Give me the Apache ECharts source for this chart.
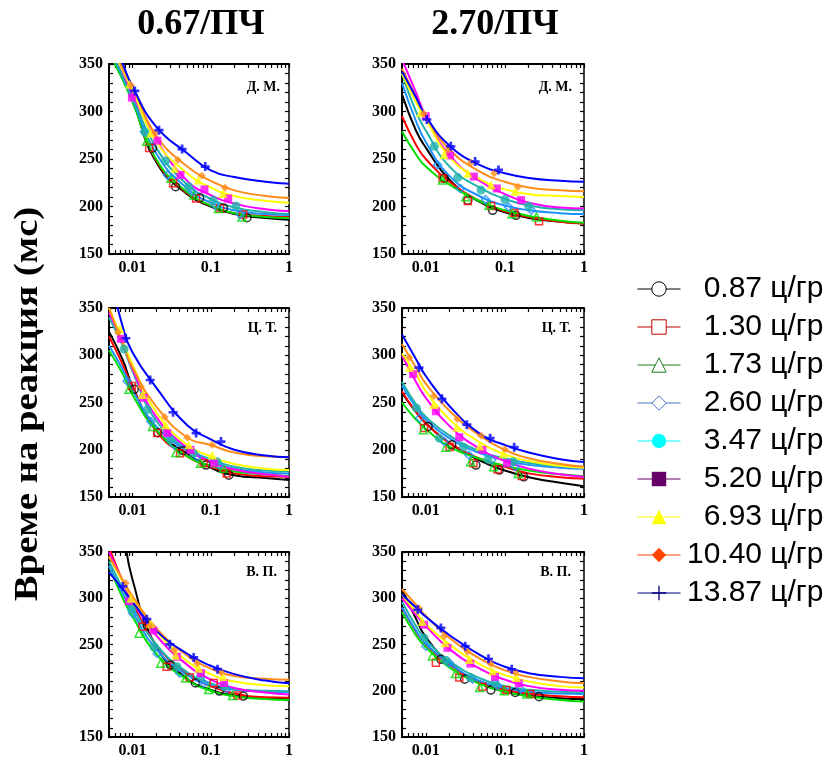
<!DOCTYPE html>
<html>
<head>
<meta charset="utf-8">
<script src="https://cdn.jsdelivr.net/npm/echarts@6/dist/echarts.min.js"></script>
<style>
html,body{margin:0;padding:0;background:#fff;}
#chart{width:828px;height:759px;}
</style>
</head>
<body>
<div id="chart"></div>
<script>
// ---------------- DATA ----------------
const doseLabels = ['0.87 ц/гр','1.30 ц/гр','1.73 ц/гр','2.60 ц/гр','3.47 ц/гр','5.20 ц/гр','6.93 ц/гр','10.40 ц/гр','13.87 ц/гр'];
const columnTitles = ['0.67/ПЧ', '2.70/ПЧ'];
const panelLabels = ['Д. М.', 'Д. М.', 'Ц. Т.', 'Ц. Т.', 'В. П.', 'В. П.'];
const yTitle = 'Време на реакция (мс)';
const xLabelVals = [0.01, 0.1, 1];
const xTickVals = [0.005,0.006,0.007,0.008,0.009,0.01,0.02,0.03,0.04,0.05,0.06,0.07,0.08,0.09,0.1,0.2,0.3,0.4,0.5,0.6,0.7,0.8,0.9,1];
const yLabelVals = [150, 200, 250, 300, 350];
const fitX = [0.005, 0.0075, 0.01, 0.02, 0.05, 0.1, 0.2, 0.5, 1];

// Д. М. — 0.67/ПЧ
const dm067Points = [
  [[0.018,261.5],[0.0355,220.8],[0.072,209],[0.145,198.5],[0.29,188.2]],
  [[0.0163,261.5],[0.033,224.4],[0.065,208.4],[0.132,198],[0.26,191.5]],
  [[0.0152,268.6],[0.031,229.7],[0.0605,212],[0.125,197.8],[0.25,189]],
  [[0.0141,279],[0.028,233],[0.058,215.5],[0.114,201.3],[0.237,191.5]],
  [[0.0145,278],[0.0265,248],[0.052,220.8],[0.107,206.7],[0.21,200.6]],
  [[0.0098,314.6],[0.0208,269.3],[0.041,233.2],[0.083,218],[0.167,208.4]],
  [[0.0091,328.8],[0.017,277],[0.0345,240.3],[0.069,227.8],[0.143,213.7]],
  [[0.0095,327.7],[0.0194,277.4],[0.038,249],[0.077,232.5],[0.152,219.7]],
  [[0.0107,321.7],[0.0218,280.3],[0.043,260.4],[0.085,242]]
];
const dm067Fit = [
  [365,335,312,247,213,200,192,188,186],
  [365,335,312,249,214,201,193,190,189],
  [362,333,310,250,215,201,193,189,188],
  [368,336,313,256,219,204,196,192,191],
  [372,338,315,262,223,208,199,194,192],
  [375,342,318,271,227,212,203,197,195],
  [372,343,322,269,235,220,211,206,204],
  [375,345,326,275,242,227,217,211,209],
  [385,350,326,284,256,238,231,226,224]
];

// Д. М. — 2.70/ПЧ
const dm270Points = [
  [[0.0171,229.7],[0.034,206.7],[0.07,196],[0.138,190.7]],
  [[0.0163,229.7],[0.034,205.7],[0.067,200.6],[0.132,193.2],[0.27,184.4]],
  [[0.0163,228],[0.032,210.2],[0.063,201.3],[0.123,192.5],[0.25,189]],
  [[0.0141,243.8],[0.0273,219],[0.057,207.3],[0.111,199.6],[0.216,196]],
  [[0.0128,263.3],[0.0253,230.4],[0.05,217.3],[0.1,207.3],[0.2,200.3]],
  [[0.01,295],[0.0203,253.7],[0.0405,231.5],[0.079,219],[0.16,206.7]],
  [[0.0086,298.7],[0.017,254.4],[0.034,235],[0.067,222.6],[0.135,216]],
  [[0.0094,297.6],[0.019,259.7],[0.037,246],[0.073,235],[0.146,220.8]],
  [[0.0103,291.6],[0.0207,263.3],[0.042,247.3],[0.083,238.5]]
];
const dm270Fit = [
  [318,280,262,228,204,194,188,184,182],
  [295,265,250,226,205,195,189,184,182],
  [279,255,242,223,205,196,190,185,183],
  [330,290,268,232,210,201,196,193,192],
  [340,300,280,242,219,208,201,197,196],
  [355,320,295,254,226,213,204,199,198],
  [340,310,292,252,228,218,213,211,210],
  [345,315,295,260,236,226,220,217,216],
  [342,315,295,264,243,235,230,227,226]
];

// Ц. Т. — 0.67/ПЧ
const ct067Points = [
  [[0.0105,263.9],[0.021,218],[0.044,199],[0.087,183.8],[0.17,173.1]],
  [[0.0098,267.4],[0.0207,217.6],[0.0405,196.3],[0.081,185.6],[0.16,174.9]],
  [[0.009,263.9],[0.018,224.7],[0.0358,197],[0.074,185.6],[0.145,180.3]],
  [[0.0085,272.8],[0.0171,230],[0.034,205],[0.067,192.7],[0.13,183.8]],
  [[0.0078,306.6],[0.0155,242.5],[0.0306,210.5],[0.06,196.3],[0.12,187.4]],
  [[0.0071,317.3],[0.0138,255],[0.0278,217.6],[0.055,199.8],[0.11,185.6]],
  [[0.0069,328],[0.0134,258.5],[0.0265,226.5],[0.0525,205.2],[0.104,194.5]],
  [[0.0065,324.4],[0.0128,266.7],[0.0257,234.7],[0.05,213],[0.104,205.2]],
  [[0.0082,318],[0.0168,273.8],[0.033,239.7],[0.065,217.6],[0.135,208.7]]
];
const ct067Fit = [
  [325,295,267,221,196,181,173,170,168],
  [320,290,266,220,193,182,175,172,171.5],
  [305,280,258,221,193,183,177,174,172],
  [310,285,263,225,199,188,180,176,175],
  [340,310,283,231,201,190,182,178,177],
  [345,313,285,235,202,187,179,174,171.5],
  [350,315,290,240,205,193,185,180,178.5],
  [350,312,287,246,213,205,197,193,192],
  [390,330,303,266,226,211,200,194,192]
];

// Ц. Т. — 2.70/ПЧ
const ct270Points = [
  [[0.0107,224.7],[0.0213,205.2],[0.043,183.8],[0.085,178.5],[0.173,171.4]],
  [[0.0095,223],[0.02,203],[0.04,185.6],[0.081,179.2],[0.163,172.1]],
  [[0.0093,221.2],[0.018,202.7],[0.037,187.4],[0.072,182],[0.148,174.9]],
  [[0.0084,233.6],[0.0171,208.7],[0.035,194.5],[0.068,189.1],[0.135,182]],
  [[0.0076,244.3],[0.0148,212.3],[0.03,202.7],[0.061,189.9],[0.127,187.4]],
  [[0.0069,280],[0.0134,240.7],[0.0265,213.3],[0.052,199.8],[0.106,185.6]],
  [[0.0062,287],[0.0126,247.9],[0.0247,223.7],[0.048,204.1],[0.095,195.6]],
  [[0.0062,297.7],[0.0126,256.8],[0.025,232.6],[0.05,214.8],[0.1,200.5]],
  [[0.0082,287],[0.016,253.9],[0.033,226.5],[0.065,212.3],[0.131,202.7]]
];
const ct270Fit = [
  [260,240,228,207,188,178,171,165,161.5],
  [262,240,228,207,190,182,175,171,169.5],
  [250,232,222,203,190,183,178,174,172],
  [268,245,232,212,196,189,184,181,180],
  [272,248,235,215,198,191,186,183,182],
  [300,272,255,225,200,188,180,174,171.5],
  [302,280,262,232,207,195,188,183,181],
  [312,287,270,241,214,200,191,185,182],
  [322,296,278,246,216,205,197,190,187]
];

// В. П. — 0.67/ПЧ
const vp067Points = [
  [[0.0155,270.4],[0.0306,227.8],[0.0636,208.4],[0.129,199.6],[0.26,194.2]],
  [[0.0134,269.3],[0.0273,226],[0.054,214.4],[0.109,208.4],[0.22,195]],
  [[0.0121,262.2],[0.0229,229.7],[0.0476,213.7],[0.094,201.3],[0.19,195]],
  [[0.01,283.5],[0.0207,240.3],[0.04,219],[0.081,208.4],[0.16,202]],
  [[0.0097,288],[0.0188,247.3],[0.037,226],[0.074,215.5],[0.148,204.9]],
  [[0.009,296.9],[0.0185,265],[0.037,236.7],[0.075,219],[0.148,208.4]],
  [[0.0095,300],[0.017,272.8],[0.0355,238.5],[0.07,224.4],[0.143,215.5]],
  [[0.0082,316.4],[0.0165,270],[0.0338,243.8],[0.067,229.7],[0.136,219.7]],
  [[0.0075,312.8],[0.0152,277.4],[0.030,250.2],[0.0605,236],[0.122,223.3]]
];
const vp067Fit = [
  [450,375,320,248,213,201,195,192,191.5],
  [355,318,295,250,218,205,197,193,192.5],
  [335,300,280,240,212,200,194,191,190],
  [335,305,285,245,217,206,201,199,198.5],
  [340,310,290,250,220,208,202,200,199.5],
  [350,318,297,260,228,212,203,198,196],
  [345,318,300,265,232,218,210,206,205],
  [345,320,302,268,238,224,216,213,212],
  [328,310,296,265,240,227,218,211,208]
];

// В. П. — 2.70/ПЧ
const vp270Points = [
  [[0.0155,234],[0.031,212.5],[0.0665,200.7],[0.135,198.2],[0.27,193.6]],
  [[0.0134,230.4],[0.0265,214.3],[0.052,204.3],[0.104,200.7],[0.209,196.4]],
  [[0.0121,237.5],[0.0238,218.6],[0.048,203.6],[0.098,200],[0.19,196.4]],
  [[0.01,248.2],[0.0197,230.4],[0.039,212.5],[0.081,205.4],[0.158,201.8]],
  [[0.0095,257.1],[0.0179,232.9],[0.0366,214.3],[0.075,207.9]],
  [[0.0095,271.4],[0.0188,246.4],[0.0366,229.3],[0.075,215],[0.15,207.9]],
  [[0.009,275],[0.0175,251.8],[0.0355,233.9],[0.0695,221.4],[0.14,214.3]],
  [[0.0082,289.3],[0.017,259],[0.0337,242.2],[0.066,229.3],[0.135,219.6]],
  [[0.0079,287.5],[0.0155,267.9],[0.0315,248.2],[0.062,234.6],[0.122,223.2]]
];
const vp270Fit = [
  [310,278,258,230,208,199,195,192,191],
  [290,264,250,228,209,201,197,194,193],
  [285,260,247,225,207,199,194,190,188.5],
  [290,265,251,229,210,203,199,197,196.5],
  [296,270,255,232,213,205,201,199,198],
  [300,282,270,245,223,212,205,201,200],
  [304,285,272,250,228,217,210,205,203.5],
  [310,293,281,257,234,222,215,210,208],
  [304,290,280,260,238,226,219,215,213.5]
];

// ---------------- STYLE ----------------
const plotColors = ['#000000','#ff0000','#00dd00','#1e90ff','#20b2aa','#ff00ff','#ffff00','#ff8c1a','#0000ff'];
const legendColors = ['#000000','#c00000','#1f7a1f','#4a76c8','#00ffff','#660066','#ffff00','#ff4500','#000080'];
const PLUS_THICK = 'path://M3.5,0h3v3.5h3.5v3h-3.5v3.5h-3v-3.5h-3.5v-3h3.5z';
const PLUS_THIN = 'path://M4.55,0H5.45V4.55H10V5.45H5.45V10H4.55V5.45H0V4.55H4.55Z';
const plotSymbols = ['circle','rect','triangle','diamond','circle','rect','triangle','diamond',PLUS_THICK];
const plotHollow = [true,true,true,true,false,false,false,false,false];
const plotSizes = [8,7,8,8,9,8,9,8,9];
const legendSymbols = ['circle','rect','triangle','diamond','circle','rect','triangle','diamond',PLUS_THIN];

const SERIF = '"Liberation Serif","Times New Roman",serif';
const SANS = '"Liberation Sans",Arial,sans-serif';

const panels = [
  {pts: dm067Points, fit: dm067Fit},
  {pts: dm270Points, fit: dm270Fit},
  {pts: ct067Points, fit: ct067Fit},
  {pts: ct270Points, fit: ct270Fit},
  {pts: vp067Points, fit: vp067Fit},
  {pts: vp270Points, fit: vp270Fit}
];

const grids = [
  {left:109, top:64, width:180, height:190},
  {left:402, top:64, width:182, height:190},
  {left:109, top:308, width:180, height:189},
  {left:402, top:308, width:182, height:189},
  {left:109, top:552, width:180, height:189},
  {left:402, top:552, width:182, height:189}
];

const xAxes = [], yAxes = [], series = [];
grids.forEach((g, p) => {
  const axLine = w => ({show:true, onZero:false, lineStyle:{color:'#000', width:w}});
  xAxes.push({
    type:'log', logBase:10, min:0.005, max:1, gridIndex:p, position:'bottom',
    axisLine: axLine(2),
    axisTick: {show:true, inside:true, length:4, customValues: xTickVals, lineStyle:{color:'#000', width:1.2}},
    axisLabel: {show:true, customValues: xLabelVals, margin:6, color:'#000', fontFamily:SERIF, fontWeight:'bold', fontSize:16,
      formatter: v => (Math.abs(v-0.01)<1e-9 ? '0.01' : Math.abs(v-0.1)<1e-9 ? '0.1' : Math.abs(v-1)<1e-9 ? '1' : '')},
    splitLine: {show:false}, minorTick:{show:false}
  });
  xAxes.push({
    type:'log', logBase:10, min:0.005, max:1, gridIndex:p, position:'top',
    axisLine: axLine(2),
    axisTick: {show:true, inside:true, length:4, customValues: xTickVals, lineStyle:{color:'#000', width:1.2}},
    axisLabel: {show:false}, splitLine:{show:false}
  });
  yAxes.push({
    type:'value', min:150, max:350, interval:10, gridIndex:p, position:'left',
    axisLine: axLine(2),
    axisTick: {show:true, inside:true, length:4, lineStyle:{color:'#000', width:1.2}},
    axisLabel: {show:true, interval:0, margin:6, color:'#000', fontFamily:SERIF, fontWeight:'bold', fontSize:16,
      formatter: v => (yLabelVals.indexOf(v) >= 0 ? String(v) : '')},
    splitLine:{show:false}
  });
  yAxes.push({
    type:'value', min:150, max:350, interval:10, gridIndex:p, position:'right',
    axisLine: axLine(1.5),
    axisTick: {show:true, inside:true, length:4, lineStyle:{color:'#000', width:1.2}},
    axisLabel: {show:false}, splitLine:{show:false}
  });
});

// legend-only series (carry the legend symbols)
doseLabels.forEach((name, s) => {
  series.push({
    type:'line', name, data:[], xAxisIndex:0, yAxisIndex:0,
    symbol: legendSymbols[s], lineStyle:{color:legendColors[s], width:1},
    itemStyle:{color:legendColors[s]}
  });
});

panels.forEach((pn, p) => {
  for (let s = 0; s < 9; s++) {
    series.push({
      type:'line', xAxisIndex:2*p, yAxisIndex:2*p, silent:true,
      data: fitX.map((x, i) => [x, pn.fit[s][i]]),
      smooth:0.5, symbol:'none', showSymbol:false, clip:true,
      lineStyle:{color:plotColors[s], width:2}, z:2
    });
  }
  for (let s = 0; s < 9; s++) {
    series.push({
      type:'scatter', xAxisIndex:2*p, yAxisIndex:2*p, silent:true,
      data: pn.pts[s], symbol: plotSymbols[s], symbolSize: plotSizes[s], clip:true,
      itemStyle: plotHollow[s]
        ? {color:'rgba(255,255,255,0)', borderColor:plotColors[s], borderWidth:1.5}
        : {color:plotColors[s], borderWidth:0},
      z:3
    });
  }
});

const legendData = doseLabels.map((name, s) => ({
  name,
  itemStyle: plotHollow[s]
    ? {color:'#ffffff', borderColor:legendColors[s], borderWidth:1}
    : {color:legendColors[s], borderColor:legendColors[s], borderWidth:0},
  lineStyle: {color:legendColors[s], width:1}
}));

const panelLabelPos = [[280,87],[572,87],[277,328],[571,328],[277,572],[571,572]];
const graphics = [
  {type:'text', x:201, y:25, style:{text:columnTitles[0], textAlign:'center', textVerticalAlign:'middle', font:'bold 36px ' + SERIF, fill:'#000'}},
  {type:'text', x:495, y:25, style:{text:columnTitles[1], textAlign:'center', textVerticalAlign:'middle', font:'bold 36px ' + SERIF, fill:'#000'}},
  {type:'text', x:28, y:404, rotation:Math.PI/2, scaleX:1.14, style:{text:yTitle, textAlign:'center', textVerticalAlign:'middle', font:'bold 34px ' + SERIF, fill:'#000'}}
];
panelLabels.forEach((t, i) => {
  graphics.push({type:'text', x:panelLabelPos[i][0], y:panelLabelPos[i][1],
    style:{text:t, textAlign:'right', textVerticalAlign:'middle', font:'bold 14px ' + SERIF, fill:'#000'}});
});

const chart = echarts.init(document.getElementById('chart'), null, {renderer:'canvas'});
chart.setOption({
  animation:false,
  backgroundColor:'#ffffff',
  grid: grids.map(g => Object.assign({containLabel:false, show:false}, g)),
  xAxis: xAxes,
  yAxis: yAxes,
  legend: {
    data: legendData, orient:'vertical', left:637, top:274, padding:0, itemGap:8,
    itemWidth:43, itemHeight:18, selectedMode:false,
    itemStyle:{borderWidth:1}, lineStyle:{width:1},
    formatter: name => '{a|' + name + '}',
    textStyle: {rich: {a: {fontSize:30, fontFamily:SANS, color:'#000', width:138, align:'right'}}}
  },
  graphic: graphics,
  series
});
</script>
</body>
</html>
